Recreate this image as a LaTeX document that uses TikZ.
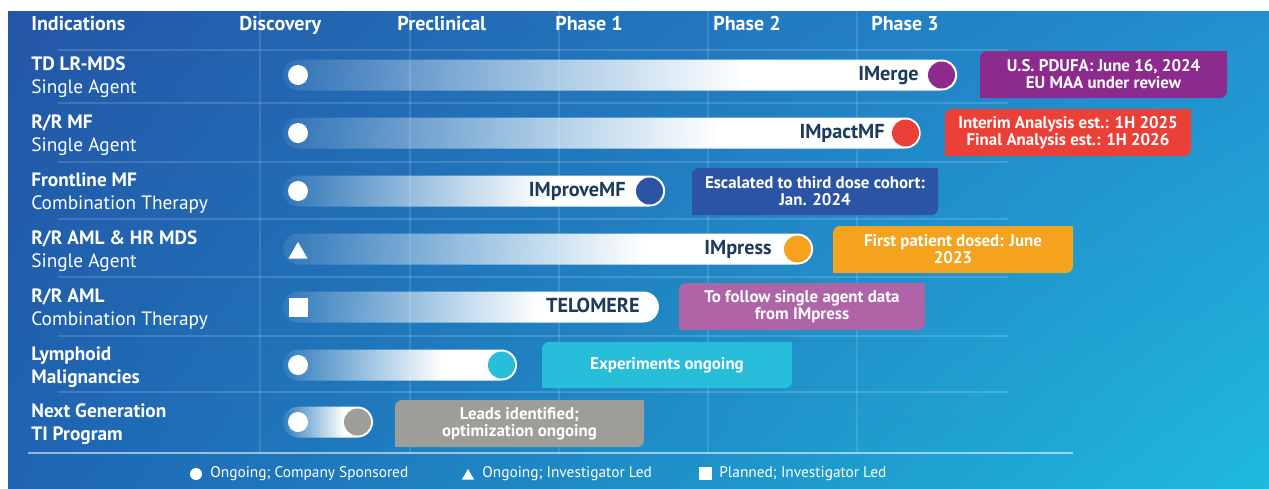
\documentclass[tikz,border=0pt]{standalone}
\usepackage{fontspec}
\setmainfont{PT Sans}
\usetikzlibrary{fadings,shadings,shapes.geometric}

% palette
\definecolor{bgUL}{HTML}{2356A6}
\definecolor{bgUR}{HTML}{2290D0}
\definecolor{bgLL}{HTML}{1F64B2}
\definecolor{bgLR}{HTML}{1FBADD}
\definecolor{barText}{HTML}{1C3A5E}
\definecolor{cPurple}{HTML}{8C2A8D}
\definecolor{cRed}{HTML}{EB4038}
\definecolor{cNavy}{HTML}{2B55A4}
\definecolor{cOrange}{HTML}{F5A31E}
\definecolor{cMauve}{HTML}{B064A8}
\definecolor{cCyan}{HTML}{28BEDA}
\definecolor{cGray}{HTML}{9D9D99}

% fonts
\newcommand\fHead{\fontsize{11.4}{13}\bfseries\selectfont}
\newcommand\fRowB{\fontsize{11}{13}\bfseries\selectfont}
\newcommand\fRow{\fontsize{11}{13}\selectfont}
\newcommand\fBar{\fontsize{11.5}{13}\bfseries\selectfont}
\newcommand\fCall{\fontsize{9.6}{9.6}\bfseries\selectfont}
\newcommand\fLeg{\fontsize{8.75}{11}\selectfont}

% white bar that fades in from the left
\pgfdeclarehorizontalshading{barramp}{100bp}{color(0bp)=(pgftransparent!93); color(25bp)=(pgftransparent!93); color(59bp)=(pgftransparent!0); color(100bp)=(pgftransparent!0)}
\tikzfading[name=barfade, shade, shading=barramp]

\newcommand\progbar[2]{%
  \fill[white, path fading=barfade, rounded corners=0.31cm] (283,#1-15.5) rectangle (#2,#1+15.5);}

% callout box: top-left and bottom-right corners rounded
\newcommand\callout[7]{% name, cx, cy, w, h, colour, text
  \node[callbox, fill=#6, minimum width=#4*0.02cm, minimum height=#5*0.02cm] (#1) at (#2,#3) {#7};
  \fill[#6] (#1.north east) rectangle ++(-10,10);
  \fill[#6] (#1.south west) rectangle ++(10,-10);}

\begin{document}
\begin{tikzpicture}[x=0.02cm, y=-0.02cm,
  hdr/.style={anchor=base west, inner sep=0, text=white, font=\fHead},
  rowb/.style={anchor=base west, inner sep=0, text=white, font=\fRowB},
  rowr/.style={anchor=base west, inner sep=0, text=white, font=\fRow},
  barlbl/.style={anchor=base east, inner sep=0, text=barText, font=\fBar},
  enddot/.style={circle, inner sep=0, minimum size=0.54cm},
  startdot/.style={circle, fill=white, inner sep=0, minimum size=0.4cm},
  starttri/.style={regular polygon, regular polygon sides=3, fill=white, inner sep=0, minimum size=0.44cm},
  startsq/.style={rectangle, fill=white, inner sep=0, minimum size=0.38cm},
  callbox/.style={rectangle, rounded corners=0.14cm, inner sep=0, text=white, align=center, font=\fCall},
  gridv/.style={white, opacity=0.13, line width=0.6pt},
  gridh/.style={white, opacity=0.15, line width=0.6pt},
  baserule/.style={white, opacity=0.55, line width=0.7pt},
  legtxt/.style={anchor=base west, inner sep=0, text=white, font=\fLeg}]

\useasboundingbox (0,0) rectangle (1269,488);
\fill[white] (0,0) rectangle (1269,488);
\shade[upper left=bgUL, upper right=bgUR, lower left=bgLL, lower right=bgLR] (8,11) rectangle (1269,488);

% grid
\foreach \gx in {260,410,559,708,857} \draw[gridv] (\gx,11) -- (\gx,453);
\foreach \gy in {50,103,162,219,277,336,392} \draw[gridh] (58,\gy) -- (1008,\gy);
\draw[baserule] (28,453) -- (1073,453);

% column headers
\node[hdr] (hInd)  at (31,30)  {Indications};
\node[hdr] (hDisc) at (239,30) {Discovery};
\node[hdr] (hPre)  at (397,30) {Preclinical};
\node[hdr] (hP1)   at (555,30) {Phase 1};
\node[hdr] (hP2)   at (713,30) {Phase 2};
\node[hdr] (hP3)   at (871,30) {Phase 3};

% indications
\node[rowb] (r1a) at (31,70.5)  {TD LR-MDS};
\node[rowr] (r1b) at (31,93)    {Single Agent};
\node[rowb] (r2a) at (31,128.5) {R/R MF};
\node[rowr] (r2b) at (31,151)   {Single Agent};
\node[rowb] (r3a) at (31,186.5) {Frontline MF};
\node[rowr] (r3b) at (31,209)   {Combination Therapy};
\node[rowb] (r4a) at (31,244.5) {R/R AML \& HR MDS};
\node[rowr] (r4b) at (31,267)   {Single Agent};
\node[rowb] (r5a) at (31,302.5) {R/R AML};
\node[rowr] (r5b) at (31,325)   {Combination Therapy};
\node[rowb] (r6a) at (31,360.5) {Lymphoid};
\node[rowb] (r6b) at (31,383)   {Malignancies};
\node[rowb] (r7a) at (31,417.5) {Next Generation};
\node[rowb] (r7b) at (31,440)   {TI Program};

% progress bars
\progbar{75}{957}
\progbar{133}{921}
\progbar{191}{665}
\progbar{249}{813}
\progbar{307}{659}
\progbar{365}{517}
\progbar{422}{373}

% start markers
\node[startdot] (s1) at (298,75) {};
\node[startdot] (s2) at (298,133) {};
\node[startdot] (s3) at (298,191) {};
\node[starttri] (s4) at (298,253) {};
\node[startsq]  (s5) at (298,307) {};
\node[startdot] (s6) at (298,365) {};
\node[startdot] (s7) at (298,422) {};

% end markers
\node[enddot, fill=cPurple] (e1) at (941.5,75) {};
\node[enddot, fill=cRed]    (e2) at (905.5,133) {};
\node[enddot, fill=cNavy]   (e3) at (649.5,191) {};
\node[enddot, fill=cOrange] (e4) at (797.5,249) {};
\node[enddot, fill=cCyan]   (e6) at (501.5,365) {};
\node[enddot, fill=cGray]   (e7) at (357.5,422) {};

% programme names
\node[barlbl] (n1) at (919,80)  {IMerge};
\node[barlbl] (n2) at (885,138) {IMpactMF};
\node[barlbl] (n3) at (626,196) {IMproveMF};
\node[barlbl] (n4) at (772,254) {IMpress};
\node[barlbl] (n5) at (640,312) {TELOMERE};

% status callouts
\callout{c1}{1103.5}{74.5}{247}{47}{cPurple}{U.S. PDUFA: June 16, 2024\\EU MAA under review}
\callout{c2}{1068}{132.5}{246}{47}{cRed}{Interim Analysis est.: 1H 2025\\Final Analysis est.: 1H 2026}
\callout{c3}{815}{191.5}{246}{47}{cNavy}{Escalated to third dose cohort:\\Jan. 2024}
\callout{c4}{953}{249.5}{240}{47}{cOrange}{First patient dosed: June\\2023}
\callout{c5}{802}{306.5}{246}{47}{cMauve}{To follow single agent data\\from IMpress}
\callout{c6}{667}{365}{250}{46}{cCyan}{Experiments ongoing}
\callout{c7}{519.5}{423.5}{249}{47}{cGray}{Leads identified;\\optimization ongoing}

% legend
\node[circle, fill=white, inner sep=0, minimum size=0.24cm] (lg1) at (196,474) {};
\node[legtxt] (lt1) at (210,477) {Ongoing; Company Sponsored};
\node[regular polygon, regular polygon sides=3, fill=white, inner sep=0, minimum size=0.28cm] (lg2) at (468,476) {};
\node[legtxt] (lt2) at (482,477) {Ongoing; Investigator Led};
\node[rectangle, fill=white, inner sep=0, minimum size=0.26cm] (lg3) at (705,473.5) {};
\node[legtxt] (lt3) at (719,477) {Planned; Investigator Led};
\end{tikzpicture}
\end{document}
